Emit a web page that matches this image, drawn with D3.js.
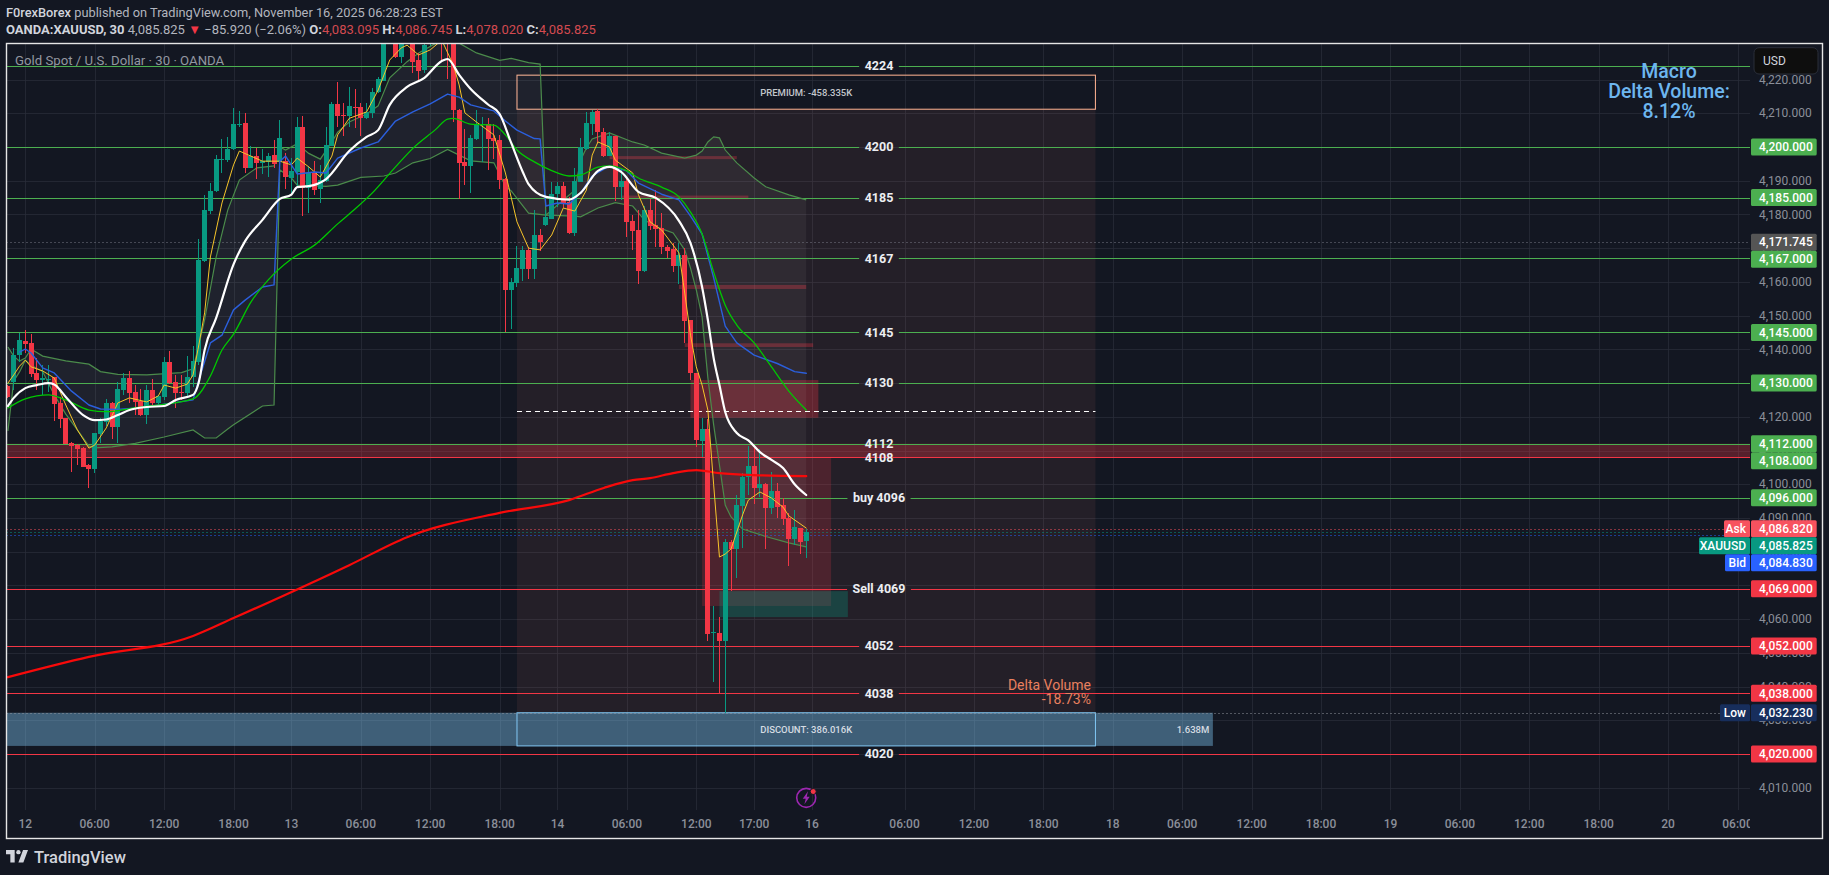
<!DOCTYPE html>
<html><head><meta charset="utf-8">
<script src="https://cdn.jsdelivr.net/npm/d3@7/dist/d3.min.js"></script>
<style>
html,body{margin:0;padding:0;background:#131722;overflow:hidden}
text{font-family:Roboto,"Noto Sans",sans-serif}
</style></head><body><svg id="c" width="1829" height="875"></svg>
<script>
// ---------- DATA ----------
const firstBar = -3;
const opens = [4129.2,4130.4,4138.3,4142.4,4141.9,4133.1,4130.9,4131,4131.8,4124,4119.6,4112.1,4111.6,4110.7,4105.7,4104.6,4114.9,4118.5,4124,4117.1,4127.9,4131.4,4127.2,4124.6,4120.5,4127.9,4124,4125.8,4136.2,4130.2,4127.4,4127.1,4131.9,4136.3,
4166.2,4181.1,4186.9,4196.3,4196.1,4199.3,4206.6,4207,4193.9,4197.3,4195.4,4195.6,4197.6,4195.6,4195.9,4190.7,4192.7,4206,4187.9,4192.2,4187.6,4190,4200.3,4212.7,4209.5,4209.3,4212,4211.8,4208.7,4210.1,4216.4,4219.6,4233,4236,4226.8,4230.5,4234,4225.8,4222.8,4230.5,4235,4238,4237,4235,
4210.9,4195.5,4194.3,4202.3,4206.4,4206.8,4202.8,4202,4190.5,4157.6,4159.7,4163.8,4169.6,4163.8,4173.9,4176.9,4178.6,4186.1,4188.5,4183.8,4174.6,4189.7,4199.3,4206.9,4210.8,4204.4,4197.4,4203.3,4188,4189.9,4178.1,4175.4,4163.2,4181.3,4176.9,4175.9,4170.2,4169.7,4164.8,4168,4148.7,4133.1,4112.9,4116.4,4056,4055.8,4053.6,4082.8,4080.8,4093.6,4102,4105.4,4099,4100.1,4092.9,4098,4093.8,4089.9,4083.7,4087,4083.095];
const highs = [4129.5,4140.3,4144.7,4145.7,4144.5,4137.3,4135.3,4135.3,4131.9,4126,4119.6,4112.5,4112,4111.1,4106,4115.1,4119.5,4125.2,4124.5,4130.4,4132.9,4133.7,4129.4,4128.1,4129.4,4131.1,4126.4,4137.8,4139.5,4132.4,4132.4,4138,4141,4172.6,
4185.8,4189.4,4197.6,4202.3,4203,4211.5,4210.7,4210,4200.3,4199.6,4199.3,4198.3,4202,4208,4198.1,4196.6,4208.8,4209.2,4194.4,4195.8,4194.7,4206,4213.4,4219.3,4213,4217.9,4217.1,4212.9,4212.9,4217.4,4220.8,4236,4238,4238,4233,4236,4236,4228,4232,4236,4237,4240,4239,4238,
4211.4,4205.3,4203.5,4210.9,4208.8,4208.5,4206.8,4203.5,4190.7,4161.1,4170.6,4170.6,4170.2,4181.3,4175.7,4181.3,4189.7,4189.7,4189.5,4185.3,4193.7,4202.6,4210.5,4211,4211.2,4205.6,4204.3,4203.3,4193.7,4191.2,4179.9,4181.3,4182.5,4184.5,4187.3,4180.4,4171,4171.5,4171.5,4170,4148.7,4133.1,4119.5,4119.2,4063.9,4060.7,4083.9,4083.5,4096.8,4103.2,4111.3,4110.6,4110.3,4100.3,4103.5,4100.3,4095.8,4091.4,4092.5,4087,4086.745];
const lows = [4125.5,4128,4136.3,4138.8,4131.9,4128,4126.4,4127.4,4118.7,4116.7,4111.9,4103.7,4105.7,4105.2,4099,4103.4,4112.1,4117.2,4113.4,4112.1,4126.4,4124.2,4120.5,4120.2,4117.8,4123.5,4123.5,4125,4129.7,4122.7,4125,4125.8,4128.9,4135.5,
4166,4180.1,4186.7,4192.4,4195.6,4199,4206,4192.4,4193.7,4190.6,4192,4191,4193.7,4194,4187.4,4185.8,4188.2,4179.5,4180.5,4185.8,4183.5,4189.7,4200.3,4206,4203.3,4206,4205.5,4203.2,4208.2,4208.5,4215.9,4219.6,4232,4226.3,4225,4231,4221.8,4219.3,4221.8,4229.9,4232,4225.8,4220.3,4207.5,
4184.7,4188.7,4186.4,4202,4195.6,4193.2,4196.3,4187.4,4145.2,4146,4158.4,4160.3,4160.9,4161,4169.2,4176.7,4178.6,4182.3,4181.8,4174.2,4173.6,4189.5,4199,4203.6,4201.3,4197,4197.2,4184.1,4184.3,4173.4,4169.5,4159.4,4162.9,4175.4,4170.2,4168.2,4167,4162.8,4159.3,4141.8,4130.9,4111.1,4108,4053.6,4041.4,4038,4032.23,4068.4,4072.2,4081.2,4096.8,4094.1,4096.3,4080.8,4091.2,4090.1,4087.9,4075.7,4082,4079.3,4078.02];
const closes = [4126,4138.3,4142.8,4141.6,4132.7,4130.9,4131.4,4131.2,4123.8,4119.3,4111.9,4111.3,4110.4,4105.2,4104.5,4115.1,4118.7,4124,4117.1,4128.1,4131.4,4127.1,4124.5,4120.5,4127.9,4124,4126.1,4136.2,4129.9,4127.1,4127,4131.7,4136.5,4166.5,
4181.3,4186.9,4196.4,4196.5,4199.3,4206.8,4206.8,4193.9,4197.3,4195.4,4195.8,4197.4,4195,4202.6,4191.2,4192.8,4206,4187.9,4192.2,4187.2,4190.2,4200.6,4212.7,4209.3,4209.2,4212.1,4211.5,4208.7,4210.4,4216.4,4220.1,4233,4236,4226.8,4230.5,4234,4225.3,4222.6,4230.2,4235,4233,4235,4233,4210.9,
4195.3,4194.3,4202.7,4206.7,4206.7,4202.3,4201.8,4190.2,4157.6,4159.9,4164.1,4169.4,4163.8,4173.9,4171.7,4179.1,4186.1,4188.5,4183.5,4174.6,4189.9,4199.9,4207,4210.5,4204.3,4197.4,4203.3,4188,4189.9,4177.9,4175.1,4163.2,4181.3,4176.7,4175.7,4170.2,4169.2,4164.8,4168,4148.5,4133.1,4113.1,4116.4,4055.6,4056.2,4053.6,4082.8,4080.8,4093.8,4102,4105.4,4099,4100.1,4092.9,4098,4093.2,4089.7,4083.7,4087.2,4082.9,4085.825];

const whiteBars = [-3,-2,0,2,4,5,7,10,12,14,16,18,21,24,26,29,30,31,33,36,38,41,44,46,47,49,52,56,59,61,63,66,69,72,73,75,77,80,82,84,86,87,90,94,96,99,101,103,106,109,113,115,117,118,119,120,121,123,125,127,129,131,133,135];
const whiteVals = [4123.2,4125.6,4128.5,4129.4,4130,4129.6,4125.9,4120.5,4119,4119.2,4120.5,4122,4122.9,4123.2,4125,4126.5,4130.3,4139.8,4149.3,4165.2,4172.1,4178.4,4184.6,4185.9,4188.1,4188.4,4190.5,4198.8,4203,4205,4212.5,4217.8,4220.5,4225.5,4226.1,4221.4,4217.2,4212.6,4209.8,4201.2,4192.6,4189,4185.2,4184.4,4186.4,4192.9,4194.1,4192.6,4186.7,4184.9,4178.1,4171.5,4158.5,4148.7,4137.4,4129.4,4121.4,4115.2,4113,4109.5,4107.2,4104.8,4100,4096.8];

const blueBars = [-1,0,1,3,5,8,11,13,16,20,29,30,32,34,36,38,41,43,44,45,47,50,52,54,58,61,64,67,70,73,75,77,81,83,85,88,89,90,92,94,96,98,101,104,106,110,113,115,117,119,121,123,126,130,133,135];
const blueVals = [4139.2,4140.1,4138.9,4134.5,4133,4127.6,4123.5,4122.3,4122.2,4122.7,4125,4130.9,4141.9,4144.2,4151.7,4154.6,4158.5,4159.1,4195.8,4197.3,4192,4192.6,4192.3,4196.7,4199.7,4201.5,4207.7,4210.4,4212.8,4215.7,4214.8,4212.5,4210.7,4207.7,4205,4202.5,4202.4,4182.5,4183.4,4183.1,4186.4,4191.4,4194.4,4192.9,4189.3,4186,4184.3,4179.5,4174.2,4161.2,4146.9,4141.9,4138.3,4135.8,4133.4,4132.9];

const greenBars = [-3,0,4,7,11,14,19,29,32,34,36,39,42,46,50,54,57,60,64,67,71,73,74,77,81,83,85,88,91,94,96,99,101,104,106,110,113,115,117,119,121,123,126,129,132,135];
const greenVals = [4122.6,4125.3,4126.5,4125,4122,4121.5,4122.7,4125.3,4132.1,4139.8,4144.5,4154,4160.6,4166.8,4170.9,4177.2,4181.6,4186.4,4194.1,4199.6,4205.3,4208.3,4208.5,4206.8,4206.5,4203.6,4199.1,4195.6,4193,4191.4,4191.7,4194,4194.4,4192.9,4190.8,4188.1,4185.2,4180.7,4174.2,4162.9,4153.1,4147.2,4141.9,4134.8,4127.6,4122];

const redBars = [-3,11,29,36,56,66,82,94,100,105,108,112,116,120,126,135];
const redVals = [4042.8,4048.8,4055,4060.3,4076,4084.3,4091.5,4095.3,4098.9,4101.2,4101.8,4103.3,4104.2,4103.3,4102.7,4102.4];

const yellowBars = [-3,-2,-1,0,1,3,5,7,9,11,12,14,16,18,21,23,24,26,28,29,30,31,32,34,36,37,39,41,44,46,47,49,51,53,54,56,59,61,63,65,66,68,70,72,74,75,76,78,81,83,85,87,89,91,93,95,97,98,99,101,102,105,106,108,110,113,114,115,116,117,118,119,120,121,122,124,125,127,129,131,132,135];
const yellowVals = [4130,4132.4,4135,4136.8,4134.8,4133.6,4131.5,4123.5,4116.1,4110.7,4111.6,4116.7,4124.1,4125.6,4124.4,4126.2,4129.4,4128.5,4129.7,4132.4,4141.3,4150.8,4167.4,4183.4,4194.7,4198.8,4197.3,4195.8,4195.8,4194.7,4196.7,4194.1,4191.1,4197.3,4203.6,4208.5,4210.4,4216.9,4225.8,4229.4,4230.2,4227.3,4228.8,4231.7,4224.3,4218.4,4210.1,4207.4,4203.6,4192.3,4177.8,4170,4169.5,4173.9,4181.9,4181,4187.2,4197.6,4201.5,4200,4196.1,4192.3,4185.8,4177.8,4175.4,4168.6,4156.7,4144.2,4134.8,4129.4,4122,4099.8,4078.4,4079.3,4080.8,4090.9,4095.3,4097.7,4095.9,4093.2,4090.6,4087];

const upperBars = [-3,-2,-1,0,1,3,7,11,13,16,21,27,29,30,31,33,35,37,40,43,44,45,47,49,51,53,54,56,59,61,63,66,68,71,75,78,82,84,87,89,90,92,95,96,97,98,100,101,105,107,110,114,116,117,118,119,120,121,123,126,128,132,135];
const upperVals = [4140.7,4138,4136.5,4137.4,4140.1,4138,4136.6,4135.6,4133.4,4132.6,4132.4,4133.1,4134.2,4141.3,4148.7,4167.4,4181.3,4190.2,4193.8,4194.4,4200,4199.1,4201,4198.1,4196.4,4201.5,4204.4,4207.4,4209.8,4212.2,4220.5,4225.3,4227.9,4230.8,4230.8,4227.9,4225.7,4226.3,4225,4224.6,4179.8,4182.8,4187.2,4196.1,4199.7,4202.4,4203.6,4204.2,4201.5,4200.6,4198.2,4196.7,4197.6,4198.8,4201.5,4203,4202.7,4199.1,4195.3,4190.8,4188.2,4185.8,4184.3];
const lowerBars = [-3,-2,-1,0,1,3,5,7,9,11,12,15,19,24,29,31,33,35,36,41,43,44,46,47,52,54,58,62,64,67,70,73,75,77,81,83,84,87,90,95,96,99,102,105,107,109,112,114,115,116,117,118,119,120,121,122,124,128,132,135];
const lowerVals = [4115.8,4130.6,4133.3,4136.8,4135.3,4133.4,4126.5,4120.8,4116.1,4111.3,4110.8,4111.1,4112.1,4114,4116.1,4113.7,4113.7,4116.4,4117.6,4123.2,4123.5,4193.2,4190.8,4188.7,4188.3,4188.7,4191,4191.4,4192.3,4195.3,4196.6,4199.3,4197.6,4195.9,4195.3,4188.4,4187,4180.4,4179.8,4179.5,4179.3,4181.9,4183.5,4182.5,4178.4,4176.4,4174.5,4169.5,4164.1,4157.6,4149.6,4131.5,4117.6,4105.7,4093.8,4090.3,4086.7,4084.5,4082.6,4081.4];

const priceTicks = [4010,4020,4030,4040,4050,4060,4070,4080,4090,4100,4110,4120,4130,4140,4150,4160,4170,4180,4190,4200,4210,4220];
const timeBars = [0,12,24,36,46,58,70,82,92,104,116,126,136,152,164,176,188,200,212,224,236,248,260,272,284,296];
const timeTexts = ["12","06:00","12:00","18:00","13","06:00","12:00","18:00","14","06:00","12:00","17:00","16","06:00","12:00","18:00","18","06:00","12:00","18:00","19","06:00","12:00","18:00","20","06:00"];

const levelPrices = [4224,4200,4185,4167,4145,4130,4112,4108,4096,4069,4052,4038,4020];
const levelTexts  = ["4224","4200","4185","4167","4145","4130","4112","4108","buy 4096","Sell 4069","4052","4038","4020"];
const levelKinds  = ["g","g","g","g","g","g","g","r","g","r","r","r","r"];
const levelBroken = [1,1,1,1,1,1,0,0,1,1,1,1,1];

const tagPrices = [4200,4185,4171.745,4167,4145,4130,4112,4108,4096,4086.82,4085.825,4084.83,4069,4052,4038,4032.23,4020];
const tagFills  = ["#4caf50","#4caf50","#555555","#4caf50","#4caf50","#4caf50","#4caf50","#4caf50","#4caf50","#f7525f","#089981","#2962ff","#f23645","#f23645","#f23645","#172e5c","#f23645"];
const tagSides  = ["","","","","","","","","","Ask","XAUUSD","Bid","","","","Low",""];

const bandHigh = 4112, bandLow = 4108;
const zoneStart = 85, zoneEnd = 185;
const premiumTop = 4221.3, premiumBottom = 4211.2;
const discountTop = 4032.23, discountBottom = 4022.4, discountEnd = 205.3;
const midPrice = 4121.6;
const blockStart = [101,103,113,114,115,117,120];
const blockEnd   = [123,125,135,136.2,137.1,139.3,142.2];
const blockTop   = [4197.3,4185.6,4159.1,4141.8,4130.9,4107.8,4068.3];
const blockBot   = [4196.4,4184.5,4157.9,4140.7,4119.7,4063.9,4060.6];
const blockKind  = ["a","a","a","a","b","c","t"];

// ---------- LAYOUT ----------
const L=6.5,R=1822.5,T=43.5,B=838.5,PX=1750,GB=810;
const x=d3.scaleLinear().domain([0,136]).range([25.3,812]);
const y=d3.scaleLinear().domain([4020,4200]).range([754,147]);
const fmt=d3.format(",.3f");
const svg=d3.select("#c");
const defs=svg.append("defs");
defs.append("clipPath").attr("id","plot").append("rect").attr("x",L).attr("y",T).attr("width",PX-L).attr("height",B-T);

const G='#4caf50',RD='#f23645';

const plot=svg.append("g").attr("clip-path","url(#plot)");
// grid
plot.append("g").selectAll("line").data(timeBars).join("line")
 .attr("x1",d=>Math.round(x(d))+.5).attr("x2",d=>Math.round(x(d))+.5).attr("y1",T).attr("y2",GB)
 .attr("stroke","#2a2e39").attr("stroke-opacity",.75);
plot.append("g").selectAll("line").data(priceTicks).join("line")
 .attr("x1",L).attr("x2",PX).attr("y1",d=>Math.round(y(d))+.5).attr("y2",d=>Math.round(y(d))+.5)
 .attr("stroke","#2a2e39").attr("stroke-opacity",.75);

// zones
plot.append("rect").attr("x",x(zoneStart)).attr("width",x(zoneEnd)-x(zoneStart)).attr("y",y(premiumBottom)).attr("height",y(discountTop)-y(premiumBottom)).attr("fill","rgba(255,130,120,.075)");
plot.append("rect").attr("x",L).attr("width",x(discountEnd)-L).attr("y",y(discountTop)).attr("height",y(discountBottom)-y(discountTop)).attr("fill","rgba(130,205,250,.4)");
plot.append("rect").attr("x",x(zoneStart)).attr("width",x(zoneEnd)-x(zoneStart)).attr("y",y(discountTop)).attr("height",y(discountBottom)-y(discountTop)).attr("fill","none").attr("stroke","#82c8f5").attr("stroke-width",1);
plot.append("rect").attr("x",x(zoneStart)).attr("width",x(zoneEnd)-x(zoneStart)).attr("y",y(premiumTop)).attr("height",y(premiumBottom)-y(premiumTop)).attr("fill","none").attr("stroke","#f0a88a").attr("stroke-width",1.1);

// band between two levels
plot.append("rect").attr("x",L).attr("width",PX-L).attr("y",y(bandHigh)).attr("height",y(bandLow)-y(bandHigh)).attr("fill",RD).attr("fill-opacity",.3);

// blocks
const blockFill={a:"rgba(242,54,69,.3)",b:"rgba(242,54,69,.3)",c:"rgba(242,54,69,.2)",t:"rgba(8,153,129,.3)"};
plot.append("g").selectAll("rect").data(blockStart).join("rect")
 .attr("x",d=>x(d)).attr("width",(d,i)=>x(blockEnd[i])-x(d))
 .attr("y",(d,i)=>y(blockTop[i])).attr("height",(d,i)=>y(blockBot[i])-y(blockTop[i]))
 .attr("fill",(d,i)=>blockFill[blockKind[i]]);

// volatility band shading
const pts=(b,v)=>b.map((d,i)=>[x(d),y(v[i])]);
const ln=d3.line();
const smooth=d3.line().curve(d3.curveMonotoneX);
const upperPts=pts(upperBars,upperVals), lowerPts=pts(lowerBars,lowerVals);
plot.append("path").attr("d",ln(upperPts.concat(lowerPts.slice().reverse()))+"Z").attr("fill","rgba(255,255,255,.05)");

// levels
const measure=svg.append("text").attr("font-size",12.5).attr("font-weight",700).attr("opacity",0);
const lvlCx=879;
levelPrices.forEach((p,i)=>{
  const yy=Math.round(y(p))+.5, c=levelKinds[i]==="g"?G:RD;
  measure.text(levelTexts[i]);
  const w=measure.node().getComputedTextLength()/2+ 5.5;
  if(levelBroken[i]){
    plot.append("line").attr("x1",L).attr("x2",lvlCx-w).attr("y1",yy).attr("y2",yy).attr("stroke",c).attr("stroke-width",1);
    plot.append("line").attr("x1",lvlCx+w).attr("x2",PX).attr("y1",yy).attr("y2",yy).attr("stroke",c).attr("stroke-width",1);
  } else {
    plot.append("line").attr("x1",L).attr("x2",PX).attr("y1",yy).attr("y2",yy).attr("stroke",c).attr("stroke-width",1);
  }
});
measure.remove();

// dotted price lines
const dotted=[[4171.745,"#787b86",PX],[4086.82,"#f7525f",1724],[4085.825,"#089981",1699],[4084.83,"#2962ff",1725],[4032.23,"#9598a1",1720]];
plot.append("g").selectAll("line").data(dotted).join("line")
 .attr("x1",L).attr("x2",d=>d[2]).attr("y1",d=>Math.round(y(d[0]))+.5).attr("y2",d=>Math.round(y(d[0]))+.5)
 .attr("stroke",d=>d[1]).attr("stroke-dasharray","1 3");
// mid dashed line
plot.append("line").attr("x1",x(zoneStart)).attr("x2",x(zoneEnd)).attr("y1",Math.round(y(midPrice))+.5).attr("y2",Math.round(y(midPrice))+.5)
 .attr("stroke","#fff").attr("stroke-dasharray","5 4").attr("stroke-width",1);

// band lines, thin
plot.append("path").attr("d",ln(lowerPts)).attr("fill","none").attr("stroke","#4b8b4b").attr("stroke-width",1.2);
plot.append("path").attr("d",ln(upperPts)).attr("fill","none").attr("stroke","#4b8b4b").attr("stroke-width",1.2);

// candles
const up="#089981", dn="#f23645";
const cG=plot.append("g");
cG.selectAll("rect.w").data(opens).join("rect").attr("class","w")
 .attr("x",(d,i)=>Math.round(x(i+firstBar)-.5))
 .attr("width",1)
 .attr("y",(d,i)=>y(highs[i])).attr("height",(d,i)=>Math.max(.5,y(lows[i])-y(highs[i])))
 .attr("fill",(d,i)=>closes[i]>=d?up:dn).attr("shape-rendering","crispEdges");
cG.selectAll("rect.b").data(opens).join("rect").attr("class","b")
 .attr("x",(d,i)=>Math.round(x(i+firstBar)-2.5))
 .attr("width",5)
 .attr("y",(d,i)=>y(Math.max(d,closes[i]))).attr("height",(d,i)=>Math.max(1,Math.abs(y(closes[i])-y(d))))
 .attr("fill",(d,i)=>closes[i]>=d?up:dn).attr("shape-rendering","crispEdges");

// moving averages
const addLine=(gen,b,v,c,w)=>plot.append("path").attr("d",gen(pts(b,v))).attr("fill","none").attr("stroke",c).attr("stroke-width",w).attr("stroke-linejoin","round").attr("stroke-linecap","round");
addLine(smooth,redBars,redVals,"#f80a0a",2.2);
addLine(ln,yellowBars,yellowVals,"#f7c52a",1);
addLine(ln,blueBars,blueVals,"#2b5fdc",1.4);
addLine(smooth,greenBars,greenVals,"#00c800",1.3);
addLine(smooth,whiteBars,whiteVals,"#ffffff",2.2);

// level labels
levelPrices.forEach((p,i)=>{
  plot.append("text").attr("x",lvlCx).attr("y",y(p)).attr("dy","0.35em").attr("text-anchor","middle")
   .attr("fill","#eceef2").attr("font-size",12.5).attr("font-weight",700).text(levelTexts[i]);
});

// annotation text
const zoneMid=(x(zoneStart)+x(zoneEnd))/2;
plot.append("text").attr("x",zoneMid).attr("y",y((premiumTop+premiumBottom)/2)).attr("dy","0.35em").attr("text-anchor","middle").attr("fill","#c3c6cc").attr("font-size",9.5).attr("font-weight",500).text("PREMIUM: -458.335K");
plot.append("text").attr("x",zoneMid).attr("y",y((discountTop+discountBottom)/2)).attr("dy","0.35em").attr("text-anchor","middle").attr("fill","#d5dbe2").attr("font-size",9.5).attr("font-weight",500).text("DISCOUNT: 386.016K");
plot.append("text").attr("x",1193).attr("y",y((discountTop+discountBottom)/2)).attr("dy","0.35em").attr("text-anchor","middle").attr("fill","#d5dbe2").attr("font-size",9.5).attr("font-weight",500).text("1.638M");
plot.append("text").attr("x",1091).attr("y",690).attr("text-anchor","end").attr("fill","#e9805f").attr("font-size",14).text("Delta Volume");
plot.append("text").attr("x",1091).attr("y",704).attr("text-anchor","end").attr("fill","#e9805f").attr("font-size",14).text("-18.73%");
["Macro","Delta Volume:","8.12%"].forEach((t,i)=>{
  plot.append("text").attr("x",1669).attr("y",78+i*20).attr("text-anchor","middle").attr("fill","#6db6ef").attr("font-size",19.5).attr("font-weight",500).text(t);
});
plot.append("text").attr("x",15).attr("y",65).attr("fill","#9397a1").attr("font-size",13.2).text("Gold Spot / U.S. Dollar · 30 · OANDA");

// bolt icon
const ic=plot.append("g").attr("transform",`translate(${x(135)},${y(4007)})`);
ic.append("circle").attr("r",9.5).attr("fill","none").attr("stroke","#9c27b0").attr("stroke-width",1.6);
ic.append("path").attr("d","M1.8,-6.5 L-3.5,1 L-0.5,1 L-1.8,6.5 L3.5,-1 L0.5,-1Z").attr("fill","#9c27b0");
ic.append("circle").attr("cx",7).attr("cy",-6.3).attr("r",3).attr("fill","#f23645").attr("stroke","#131722").attr("stroke-width",1);

// price tags, pushed apart so they do not overlap
const H=17;
let prev=-1e9;
const tagY=tagPrices.map(p=>{let c=y(p); if(c-prev<H) c=prev+H; prev=c; return c;});

// axis labels: a tick a tag covers completely is not drawn, as in the terminal
const visibleTicks=priceTicks.filter(t=>!tagY.some(c=>Math.abs(c-y(t))<3));
svg.append("g").selectAll("text").data(visibleTicks).join("text").attr("x",1759).attr("y",d=>y(d)).attr("dy","0.35em").attr("fill","#8b8f99").attr("font-size",12).text(fmt);
svg.append("g").attr("clip-path","url(#plot)").selectAll("text").data(timeBars).join("text")
 .attr("x",d=>x(d)).attr("y",824).attr("dy","0.35em").attr("text-anchor","middle").attr("fill","#8b8f99").attr("font-size",12).attr("font-weight",500).text((d,i)=>timeTexts[i]);

const tags=svg.append("g");
tagPrices.forEach((p,i)=>{
  const c=tagY[i];
  tags.append("rect").attr("x",1751).attr("y",c-H/2).attr("width",65.7).attr("height",H).attr("rx",1.5).attr("fill",tagFills[i]);
  tags.append("text").attr("x",1759).attr("y",c).attr("dy","0.35em").attr("fill","#fff").attr("font-size",12).attr("font-weight",500).text(fmt(p));
  if(tagSides[i]){
    const w={"Ask":26,"Bid":25,"XAUUSD":51,"Low":30}[tagSides[i]];
    tags.append("rect").attr("x",1750-w).attr("y",c-H/2).attr("width",w).attr("height",H).attr("rx",1.5).attr("fill",tagFills[i]);
    tags.append("text").attr("x",1746).attr("y",c).attr("dy","0.35em").attr("text-anchor","end").attr("fill","#fff").attr("font-size",12).attr("font-weight",500).text(tagSides[i]);
  }
});

// USD button
svg.append("rect").attr("x",1754).attr("y",47.7).attr("width",64).attr("height",26.3).attr("rx",5).attr("fill","#0e0e0e").attr("stroke","#2a2e39");
svg.append("text").attr("x",1763).attr("y",61).attr("dy","0.35em").attr("fill","#d1d4dc").attr("font-size",12).text("USD");

// frame
svg.append("rect").attr("x",L).attr("y",T).attr("width",R-L).attr("height",B-T).attr("fill","none").attr("stroke","#e6e6e6").attr("stroke-width",1.4);

// header
const h1=svg.append("text").attr("x",6).attr("y",17).attr("font-size",12.8).attr("fill","#b2b5be");
h1.append("tspan").attr("font-weight",500).attr("fill","#d1d4dc").text("F0rexBorex");
h1.append("tspan").text(" published on TradingView.com, November 16, 2025 06:28:23 EST");
const h2=svg.append("text").attr("x",6).attr("y",34).attr("font-size",13).attr("fill","#b2b5be");
h2.append("tspan").attr("font-weight",700).attr("fill","#d1d4dc").text("OANDA:XAUUSD, 30");
h2.append("tspan").text("  4,085.825 ");
h2.append("tspan").attr("fill","#f23645").text("▼");
h2.append("tspan").text(" −85.920 (−2.06%)  ");
[["O:","4,083.095"],["H:","4,086.745"],["L:","4,078.020"],["C:","4,085.825"]].forEach(a=>{
  h2.append("tspan").attr("font-weight",700).attr("fill","#d1d4dc").text(a[0]);
  h2.append("tspan").attr("fill","#d24a50").text(a[1]+" ");
});

// logo
const lg=svg.append("g").attr("transform","translate(6,850) scale(0.62)").attr("fill","#d1d4dc");
lg.append("path").attr("d","M14 0H0v7h7v13h7V0zM28 20h-8L27.5 0h8L28 20z");
lg.append("circle").attr("cx",20).attr("cy",3.5).attr("r",3.5);
svg.append("text").attr("x",34).attr("y",862.5).attr("font-size",16.5).attr("font-weight",500).attr("fill","#d1d4dc").text("TradingView");
</script></body></html>
